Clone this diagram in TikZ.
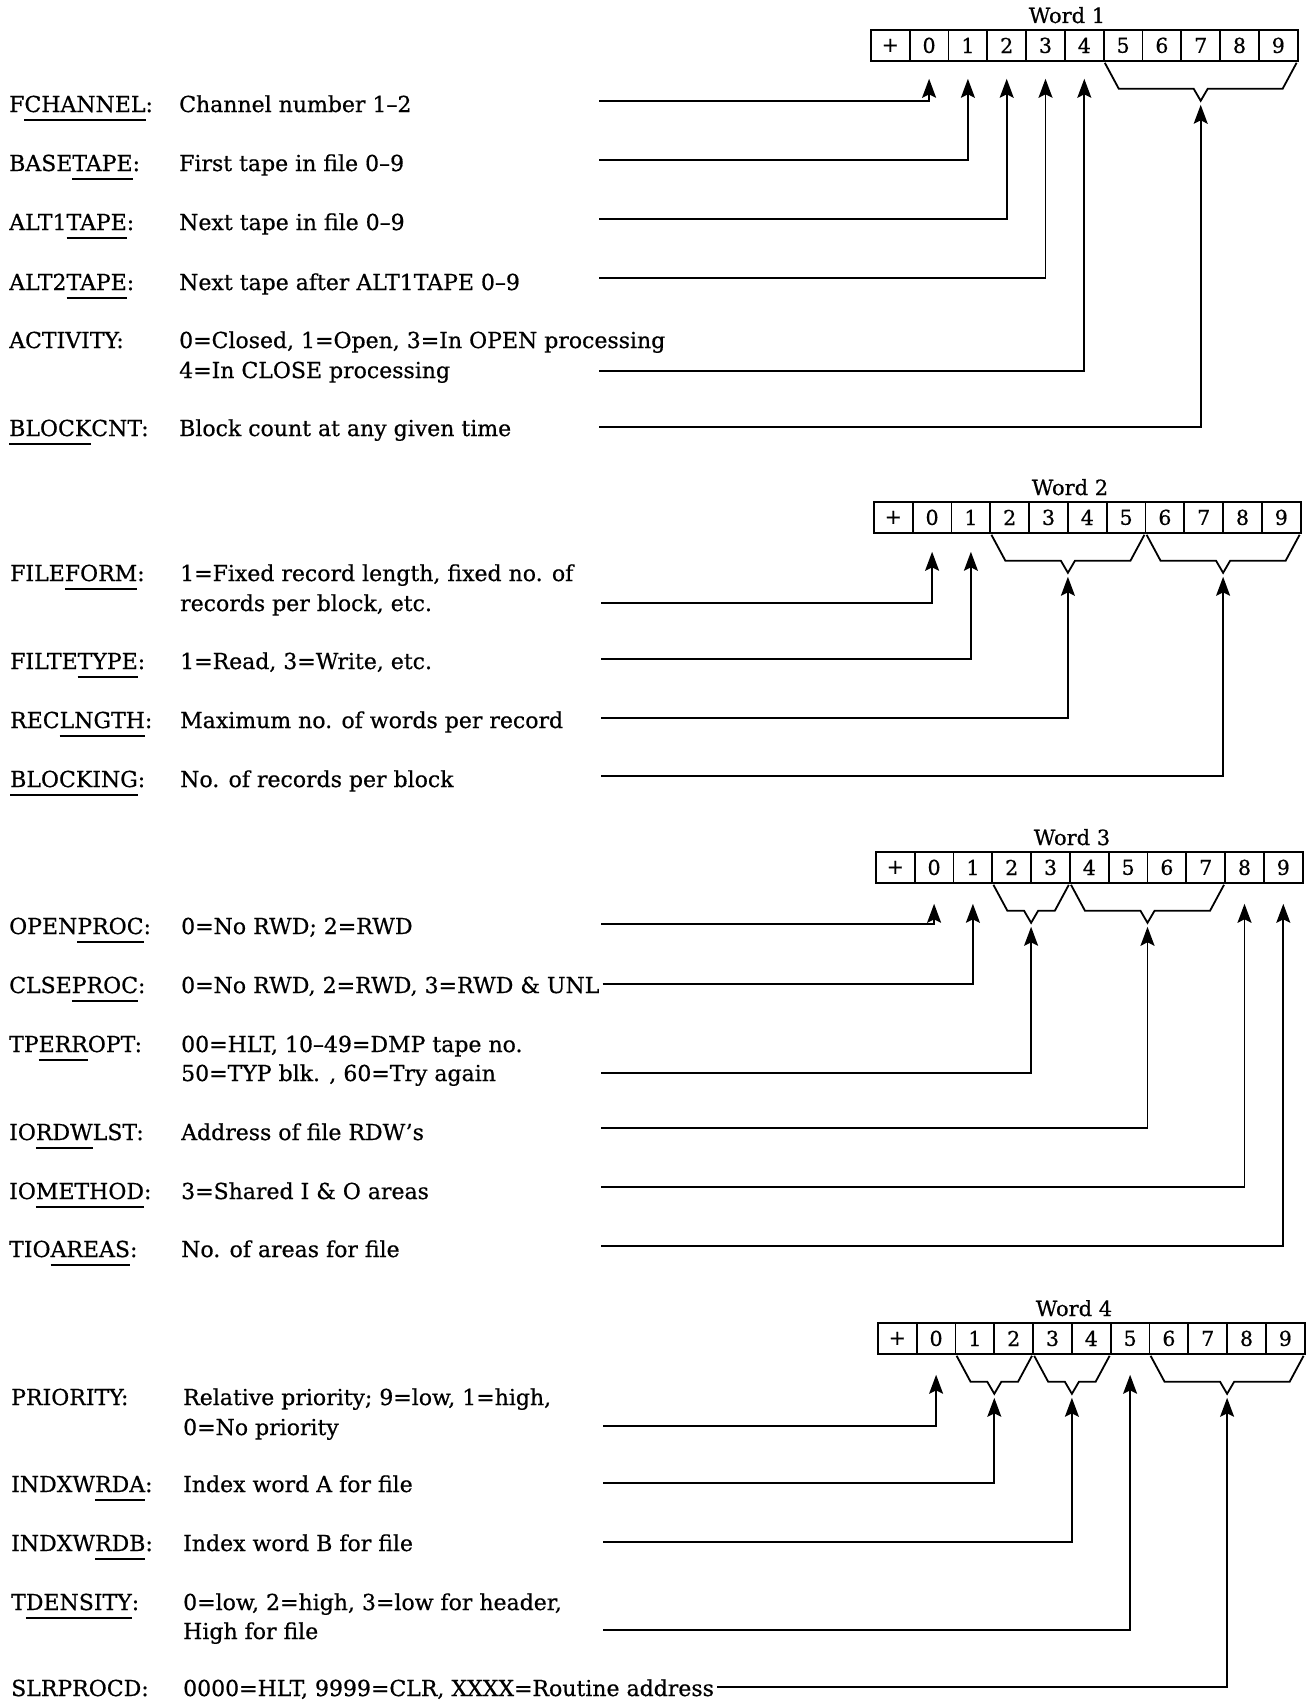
\documentclass[tikz,border=0pt]{standalone}
\usepackage{fontspec}
\setmainfont{DejaVu Serif}[FakeBold=0.6]
\usetikzlibrary{arrows.meta,calc}
\newcommand\ulpart[1]{\setbox0\hbox{#1}\rlap{\rule[-9pt]{\wd0}{1.6pt}}\box0}
\newcommand\wordbox[4]{%
  \node[wordlbl] (#1lbl) at (#2+197,#3-6) {Word #4};
  \foreach \d [count=\k from -1] in {+,0,1,2,3,4,5,6,7,8,9}{%
    \node[cell] (#1c\k) at ({#2+(\k+1)*38.8},#3) {\d};}%
}
\newcommand\brk[4]{%
  \draw[ln] (#1c#2.south west) ++(2,1) -- ++(14,26)
    -- ($(#1c#2.south west)!0.5!(#1c#3.south east)+(-7,27)$)
    -- ++(7,12) coordinate (#4) -- ++(7,-12)
    -- ($(#1c#3.south east)+(-16,27)$) -- ++(14,-26);
}
\begin{document}
\begin{tikzpicture}[x=1pt,y=-1pt,
  ln/.style={line width=1.8pt,line join=miter},
  arr/.style={line width=1.7pt,-{Stealth[length=19pt,width=14pt,inset=3.5pt]}},
  cell/.style={draw,line width=1.8pt,minimum width=38.8pt,minimum height=31pt,
    inner sep=0pt,anchor=north west,font=\fontsize{20.5}{24}\selectfont},
  wordlbl/.style={anchor=base,inner sep=0pt,font=\fontsize{21}{25}\selectfont},
  lbl/.style={anchor=base west,inner sep=0pt,font=\fontsize{22}{26}\selectfont}]
\useasboundingbox (0,0) rectangle (1307,1705);

\wordbox{wA}{870}{29}{1}
\wordbox{wB}{873}{501}{2}
\wordbox{wC}{875}{851}{3}
\wordbox{wD}{877}{1322}{4}

\brk{wA}{5}{9}{bA1}
\brk{wB}{2}{5}{bB1}
\brk{wB}{6}{9}{bB2}
\brk{wC}{2}{3}{bC1}
\brk{wC}{4}{7}{bC2}
\brk{wD}{1}{2}{bD1}
\brk{wD}{3}{4}{bD2}
\brk{wD}{6}{9}{bD3}

% ---- Word 1
\node[lbl] (nA1) at (9,112) {F\ulpart{CHANNEL}:};
\node[lbl] (dA1) at (179,112) {Channel number 1–2};
\node[lbl] (nA2) at (9,171) {BASE\ulpart{TAPE}:};
\node[lbl] (dA2) at (179,171) {First tape in file 0–9};
\node[lbl] (nA3) at (9,230) {ALT1\ulpart{TAPE}:};
\node[lbl] (dA3) at (179,230) {Next tape in file 0–9};
\node[lbl] (nA4) at (9,290) {ALT2\ulpart{TAPE}:};
\node[lbl] (dA4) at (179,290) {Next tape after ALT1TAPE 0–9};
\node[lbl] (nA5) at (9,348) {ACTIVITY:};
\node[lbl] (dA5a) at (179,348) {0=Closed, 1=Open, 3=In OPEN processing};
\node[lbl] (dA5b) at (179,378) {4=In CLOSE processing};
\node[lbl] (nA6) at (9,436) {\ulpart{BLOCK}CNT:};
\node[lbl] (dA6) at (179,436) {Block count at any given time};
\coordinate (sA1) at (599,101);
\coordinate (sA2) at (599,160);
\coordinate (sA3) at (599,219);
\coordinate (sA4) at (599,278);
\coordinate (sA5) at (599,371);
\coordinate (sA6) at (599,427);
\draw[arr] (sA1) -| ([yshift=-17pt]wAc0.south);
\draw[arr] (sA2) -| ([yshift=-17pt]wAc1.south);
\draw[arr] (sA3) -| ([yshift=-17pt]wAc2.south);
\draw[arr] (sA4) -| ([yshift=-17pt]wAc3.south);
\draw[arr] (sA5) -| ([yshift=-17pt]wAc4.south);
\draw[arr] (sA6) -| ([yshift=-4pt]bA1);

% ---- Word 2
\node[lbl] (nB1) at (10,581) {FILE\ulpart{FORM}:};
\node[lbl] (dB1a) at (180,581) {1=Fixed record length, fixed no. of};
\node[lbl] (dB1b) at (180,611) {records per block, etc.};
\node[lbl] (nB2) at (10,669) {FILTE\ulpart{TYPE}:};
\node[lbl] (dB2) at (180,669) {1=Read, 3=Write, etc.};
\node[lbl] (nB3) at (10,728) {REC\ulpart{LNGTH}:};
\node[lbl] (dB3) at (180,728) {Maximum no. of words per record};
\node[lbl] (nB4) at (10,787) {\ulpart{BLOCKING}:};
\node[lbl] (dB4) at (180,787) {No. of records per block};
\coordinate (sB1) at (601,603);
\coordinate (sB2) at (601,659);
\coordinate (sB3) at (601,718);
\coordinate (sB4) at (601,776);
\draw[arr] (sB1) -| ([yshift=-18pt]wBc0.south);
\draw[arr] (sB2) -| ([yshift=-18pt]wBc1.south);
\draw[arr] (sB3) -| ([yshift=-4pt]bB1);
\draw[arr] (sB4) -| ([yshift=-4pt]bB2);

% ---- Word 3
\node[lbl] (nC1) at (9,934) {OPEN\ulpart{PROC}:};
\node[lbl] (dC1) at (181,934) {0=No RWD; 2=RWD};
\node[lbl] (nC2) at (9,993) {CLSE\ulpart{PROC}:};
\node[lbl] (dC2) at (181,993) {0=No RWD, 2=RWD, 3=RWD \& UNL};
\node[lbl] (nC3) at (9,1052) {TP\ulpart{ERR}OPT:};
\node[lbl] (dC3a) at (181,1052) {00=HLT, 10–49=DMP tape no.};
\node[lbl] (dC3b) at (181,1081) {50=TYP blk. , 60=Try again};
\node[lbl] (nC4) at (9,1140) {IO\ulpart{RDW}LST:};
\node[lbl] (dC4) at (181,1140) {Address of file RDW's};
\node[lbl] (nC5) at (9,1199) {IO\ulpart{METHOD}:};
\node[lbl] (dC5) at (181,1199) {3=Shared I \& O areas};
\node[lbl] (nC6) at (9,1257) {TIO\ulpart{AREAS}:};
\node[lbl] (dC6) at (181,1257) {No. of areas for file};
\coordinate (sC1) at (601,924);
\coordinate (sC2) at ($(dC2.base east)+(3,-9)$);
\coordinate (sC3) at (601,1073);
\coordinate (sC4) at (601,1128);
\coordinate (sC5) at (601,1187);
\coordinate (sC6) at (601,1246);
\draw[arr] (sC1) -| ([yshift=-20pt]wCc0.south);
\draw[arr] (sC2) -| ([yshift=-20pt]wCc1.south);
\draw[arr] (sC3) -| ([yshift=-4pt]bC1);
\draw[arr] (sC4) -| ([yshift=-4pt]bC2);
\draw[arr] (sC5) -| ([yshift=-20pt]wCc8.south);
\draw[arr] (sC6) -| ([yshift=-20pt]wCc9.south);

% ---- Word 4
\node[lbl] (nD1) at (11,1405) {PRIORITY:};
\node[lbl] (dD1a) at (183,1405) {Relative priority; 9=low, 1=high,};
\node[lbl] (dD1b) at (183,1435) {0=No priority};
\node[lbl] (nD2) at (11,1492) {INDXW\ulpart{RDA}:};
\node[lbl] (dD2) at (183,1492) {Index word A for file};
\node[lbl] (nD3) at (11,1551) {INDXW\ulpart{RDB}:};
\node[lbl] (dD3) at (183,1551) {Index word B for file};
\node[lbl] (nD4) at (11,1610) {T\ulpart{DENSITY}:};
\node[lbl] (dD4a) at (183,1610) {0=low, 2=high, 3=low for header,};
\node[lbl] (dD4b) at (183,1639) {High for file};
\node[lbl] (nD5) at (11,1696) {SLRPROCD:};
\node[lbl] (dD5) at (183,1696) {0000=HLT, 9999=CLR, XXXX=Routine address};
\coordinate (sD1) at (603,1426);
\coordinate (sD2) at (603,1483);
\coordinate (sD3) at (603,1542);
\coordinate (sD4) at (603,1630);
\coordinate (sD5) at ($(dD5.base east)+(3,-9)$);
\draw[arr] (sD1) -| ([yshift=-20pt]wDc0.south);
\draw[arr] (sD2) -| ([yshift=-4pt]bD1);
\draw[arr] (sD3) -| ([yshift=-4pt]bD2);
\draw[arr] (sD4) -| ([yshift=-20pt]wDc5.south);
\draw[arr] (sD5) -| ([yshift=-4pt]bD3);
\end{tikzpicture}
\end{document}
